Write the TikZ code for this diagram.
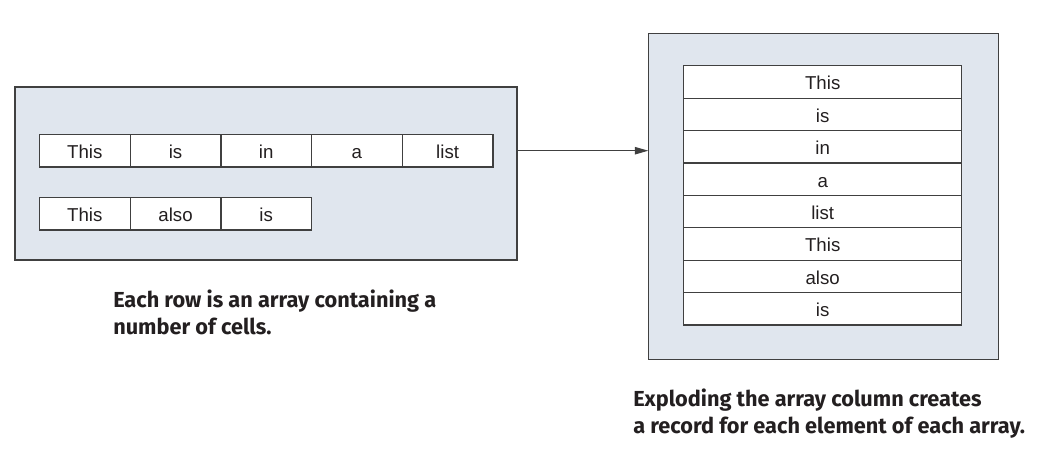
\documentclass[tikz,border=0pt]{standalone}
\usepackage{fontspec}
\setmainfont{Liberation Sans}
\newfontfamily\capfont{Fira Sans}
\usetikzlibrary{positioning,arrows.meta}
\definecolor{panelfill}{RGB}{224,230,238}
\definecolor{edgegray}{RGB}{64,64,64}
\definecolor{inkdark}{RGB}{35,31,32}

\begin{document}
\begin{tikzpicture}[x=0.75pt,y=-0.75pt]
  % Styles local to this figure.
  \tikzset{
    panel/.style={draw=edgegray,fill=panelfill,line width=1pt,inner sep=0pt,outer sep=0pt},
    cell/.style={draw=edgegray,fill=white,line width=0.9pt,minimum width=68pt,minimum height=24.3pt,
      inner sep=0pt,outer sep=0pt,text height=12pt,text depth=0pt,text=inkdark,font=\fontsize{14}{16}\selectfont},
    vcell/.style={cell,minimum width=208.5pt},
    caption/.style={align=left,anchor=north west,inner sep=0pt,text=inkdark,
      font=\capfont\bfseries\fontsize{16.3}{19.6}\selectfont}
  }
  \useasboundingbox (0,0) rectangle (1038,457);

  % Two grey panels.
  \node[panel,anchor=north west,minimum width=376.5pt,minimum height=129.75pt] (lpanel) at (15,87) {};
  \node[panel,anchor=north west,minimum width=262.5pt,minimum height=244.2pt] (rpanel) at (648.3,33.7) {};

  % Rows of the array column.
  \foreach \w [count=\i] in {This,is,in,a,list} {\node[cell,anchor=north west] (a\i) at ({39.5+90.7*(\i-1)},134.5) {\w};}
  \foreach \w [count=\i] in {This,also,is} {\node[cell,anchor=north west] (b\i) at ({39.5+90.7*(\i-1)},197.5) {\w};}

  % Exploded column, one record per element.
  \foreach \w [count=\i] in {This,is,in,a,list,This,also,is} {\node[vcell,anchor=north west] (c\i) at (683.7,{65.7+32.4*(\i-1)}) {\w};}

  \draw[line width=0.8pt,edgegray,-{Triangle[length=10pt,width=5.5pt]}] (lpanel.east |- a5) -- (rpanel.west |- a5);

  % Captions.
  \node[caption] (lcap) at (113,290) {Each row is an array containing a\\number of cells.};
  \node[caption] (rcap) at (633,389) {Exploding the array column creates\\a record for each element of each array.};
\end{tikzpicture}
\end{document}
